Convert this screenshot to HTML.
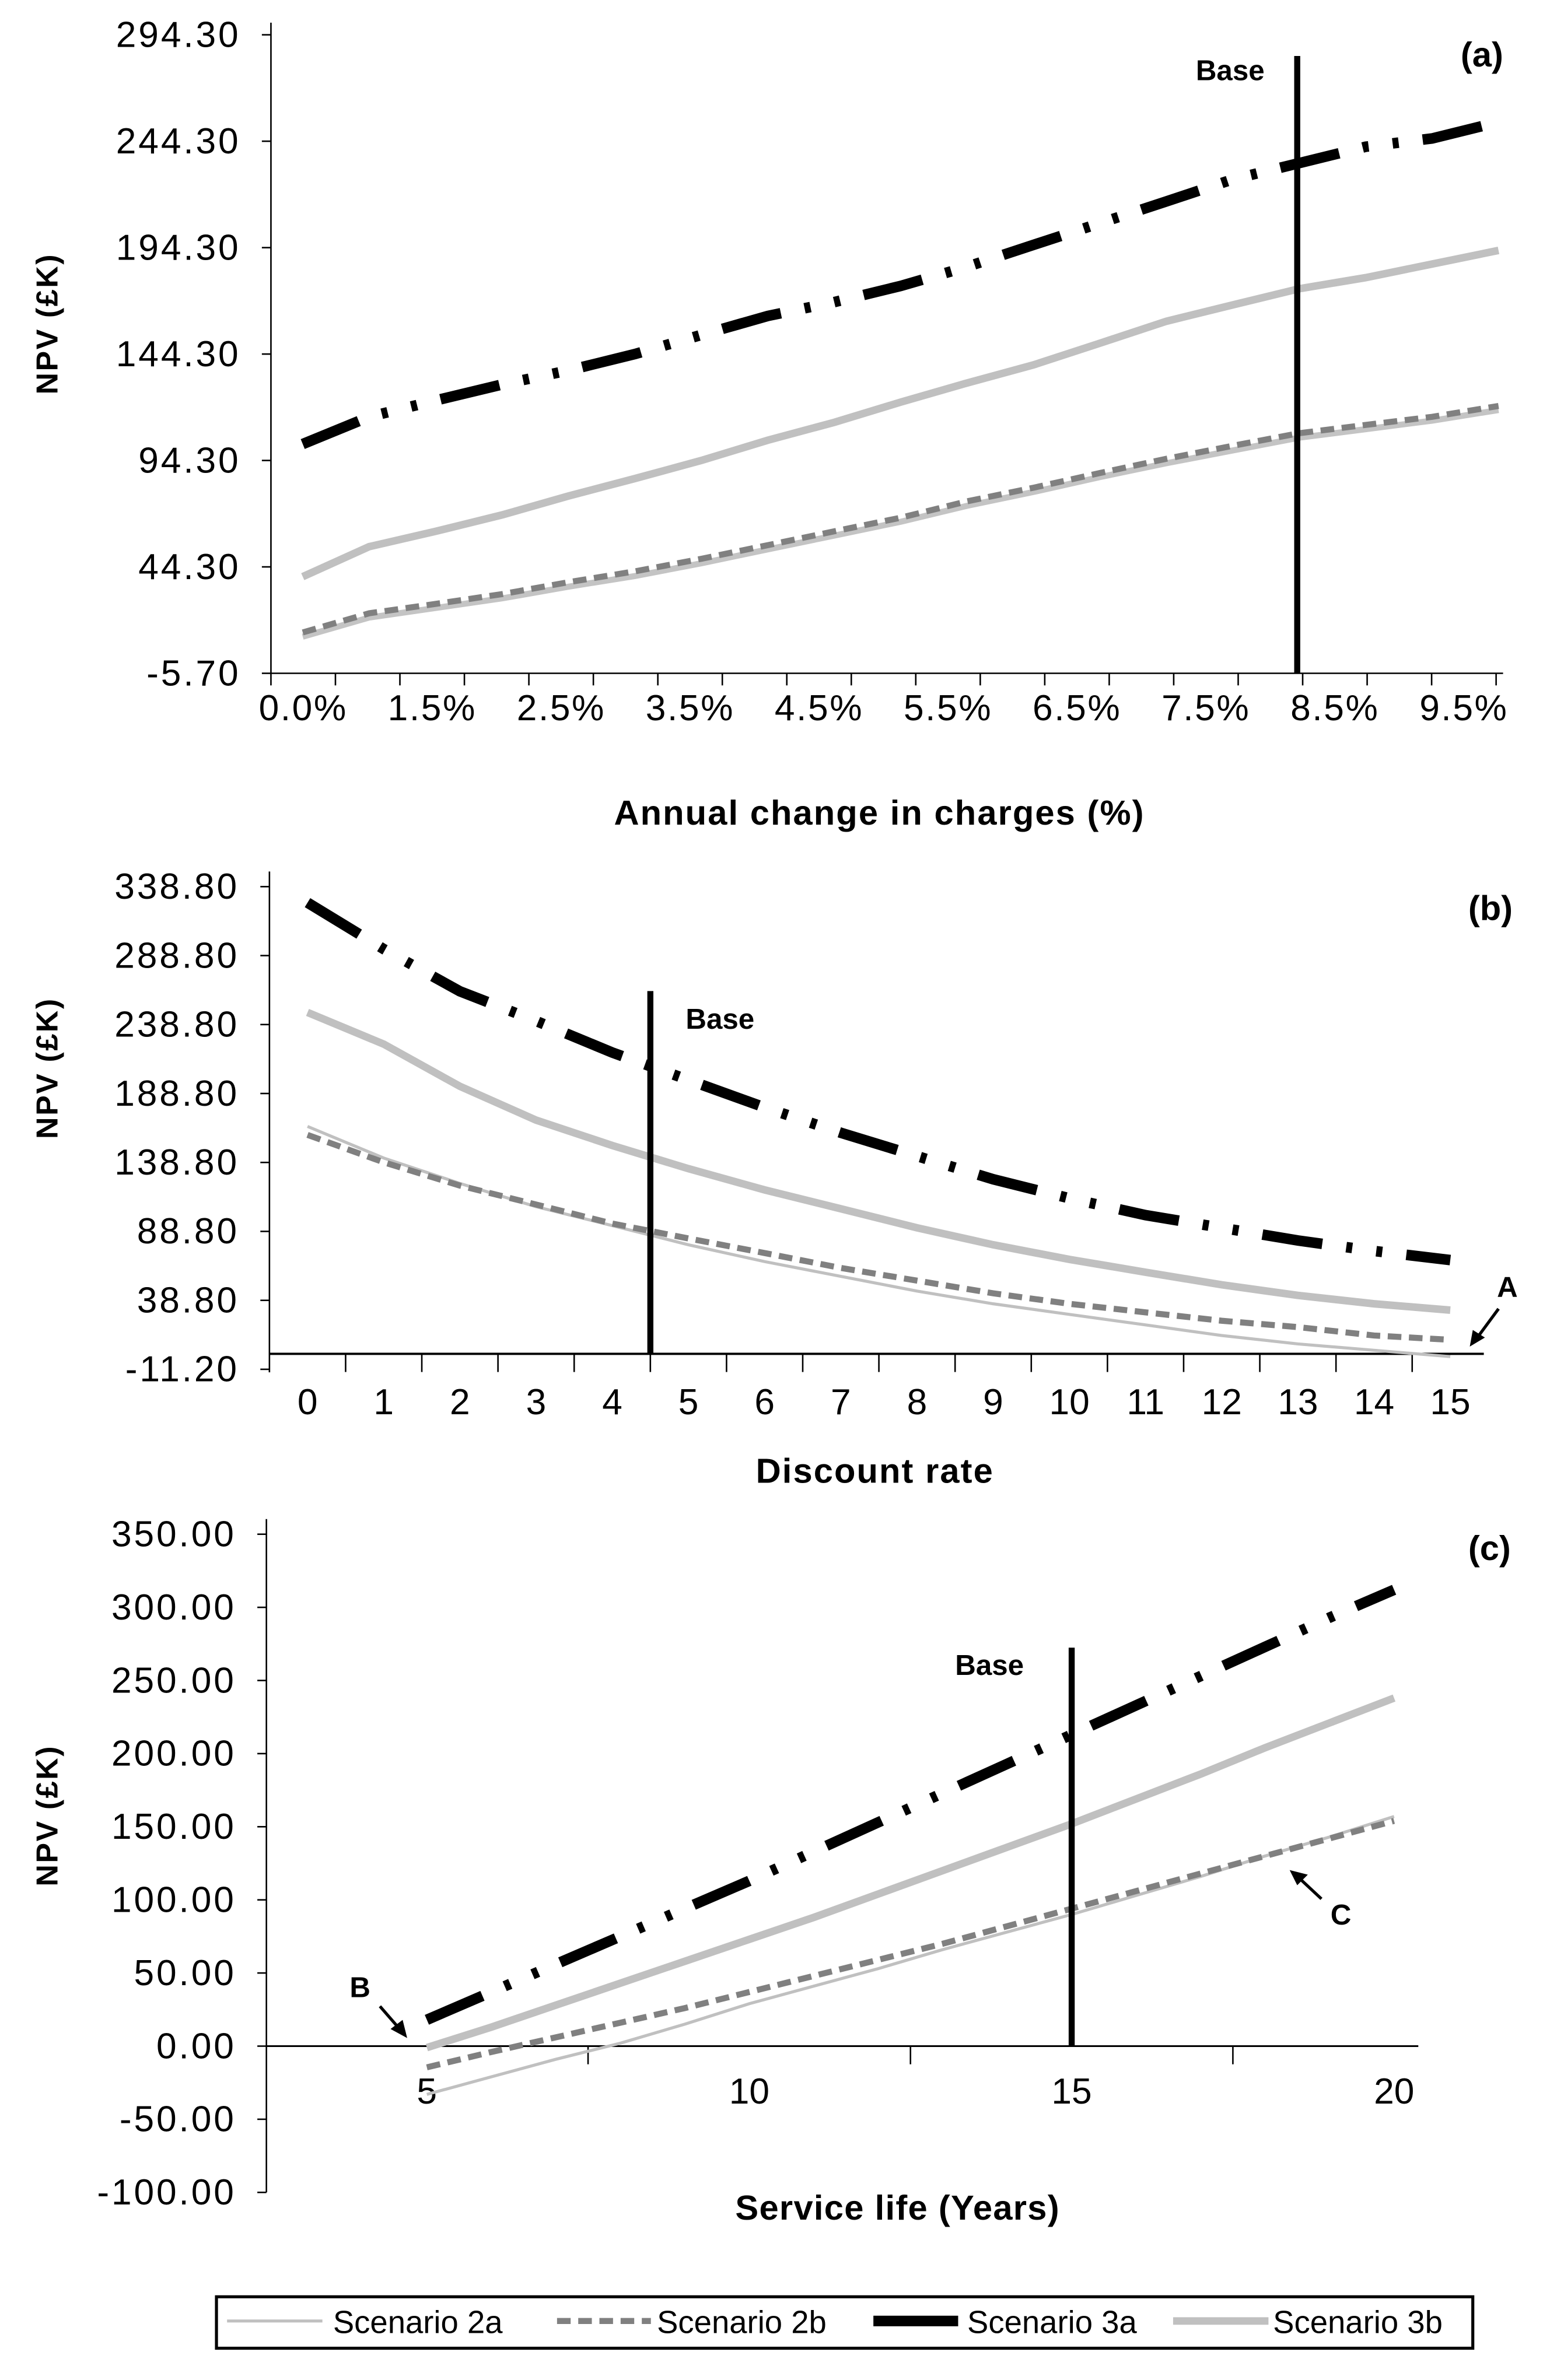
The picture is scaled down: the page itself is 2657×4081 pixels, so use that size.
<!DOCTYPE html>
<html><head><meta charset="utf-8"><style>
html,body{margin:0;padding:0;background:#fff;}
svg{display:block;}
text{font-family:"Liberation Sans",Arial,sans-serif;}
</style></head><body>
<svg id="fig" xmlns="http://www.w3.org/2000/svg" width="2657" height="4081" viewBox="0 0 1024 1573" preserveAspectRatio="none">
<rect x="0" y="0" width="1024" height="1573" fill="#fff"/>
</svg>
<script>
// ---- Panel (a) data ----
const aCats = ["0.0%","1.0%","1.5%","2.0%","2.5%","3.0%","3.5%","4.0%","4.5%","5.0%","5.5%","6.0%","6.5%","7.0%","7.5%","8.0%","8.5%","9.0%","9.5%"];
const a2a = [11.5,20.5,25,29.5,35,40,46,52.5,59,65.5,73,79.5,86.5,93,99,105,109,113,118];
const a2b = [13.5,22.5,26.9,31.5,37.1,42.2,48.1,54.5,61,67.4,75.1,81.5,88.4,95.1,101.2,107.1,111,114.8,119.9];
const a3a = [102,114.8,122.5,130,136.6,144.3,153.3,162.2,168.7,176.3,185.3,195.6,205.8,216,226.4,234,241.7,245.6,253.3];
const a3b = [39.7,53.8,61,68.7,77.6,85.8,94.3,103.8,112.2,121.7,130.7,139.2,149.4,159.7,167.4,175,180.2,186.6,193];
const aTicks = ["-5.70","44.30","94.30","144.30","194.30","244.30","294.30"];
const aTickVals = [-5.7,44.3,94.3,144.3,194.3,244.3,294.3];
const aBase = 15.8;
// ---- Panel (b) data ----
const bCats = ["0","1","2","3","4","5","6","7","8","9","10","11","12","13","14","15"];
const b2a = [164.9,142,123.6,106.7,93,79.1,66.9,56.2,45.5,36.3,28.6,21,13.3,7.2,2.6,-2];
const b2b = [158.8,138.9,122,108.3,94.5,83.7,73.1,62.3,53.1,43.9,36.3,30.1,24,19.4,13.3,10.2];
const b3a = [327.2,293.5,262.9,241.4,218.5,198.6,178.7,160.3,143.4,126.6,112.8,100.6,91.4,82.2,74.6,68];
const b3b = [247.6,224.6,194,169.5,151.1,134.3,118.9,105.2,91.4,79.1,68.5,59.2,50.1,42.4,36.3,31.7];
const bTicks = ["-11.20","38.80","88.80","138.80","188.80","238.80","288.80","338.80"];
const bTickVals = [-11.2,38.8,88.8,138.8,188.8,238.8,288.8,338.8];
const bBase = 4.5;
// ---- Panel (c) data ----
const cYears = [5,6,7,8,9,10,11,12,13,14,15,16,17,18,19,20];
const c2a = [-33,-21,-9,2,15,29,41,53,66,78,90,103,116,130,143,157];
const c2b = [-14.5,-4,6,16,26,37,48,59,70,82,94,106,118,130,142,154];
const c3a = [18,37,56,75,94,113,133,153,173,193,213,233,253,273,293,312];
const c3b = [-1,13,28,43,58,73,88,104,120,136,152,169,186,204,221,238];
const cTicks = ["-100.00","-50.00","0.00","50.00","100.00","150.00","200.00","250.00","300.00","350.00"];
const cTickVals = [-100,-50,0,50,100,150,200,250,300,350];
const cXLabels = ["5","10","15","20"];
const cXVals = [5,10,15,20];
const cBase = 15;

const NS="http://www.w3.org/2000/svg";
const svg=document.getElementById('fig');
function mk(tag,attrs,parent){const e=document.createElementNS(NS,tag);for(const k in attrs)e.setAttribute(k,attrs[k]);(parent||svg).appendChild(e);return e;}
function txt(x,y,s,size,opts,parent){const t=mk('text',Object.assign({x:x,y:y,'font-size':size,fill:'#000'},opts||{}),parent);t.textContent=s;return t;}
const TICK=24, YSP=1.5, TITLE=23;

const styles={
 s2a:{stroke:'#c0c0c0','stroke-width':2,fill:'none'},
 s2aThick:{stroke:'#c4c4c4','stroke-width':4,fill:'none'},
 s2b:{stroke:'#808080','stroke-width':4,fill:'none','stroke-dasharray':'9 5'},
 s3a:{stroke:'#000','stroke-width':7,fill:'none','stroke-dasharray':'40 16 4 16 4 16'},
 s3b:{stroke:'#c0c0c0','stroke-width':5,fill:'none'}
};
function series(g,xs,vals,yf,st,name){
  let d='';vals.forEach((v,i)=>{d+=(i?'L':'M')+xs[i].toFixed(2)+' '+yf(v).toFixed(2);});
  const p=mk('path',Object.assign({d:d},st),g);
  
  
  return p;
}

// ===== Panel (a) =====
(function(){
  const g=mk('g',{});
  
  
  const x0=179,cw=42.6,yTop=23,yBot=445,vMin=-5.7,vMax=294.3;
  const yf=v=>yBot-(v-vMin)/(vMax-vMin)*(yBot-yTop);
  const xc=i=>x0+cw*(i+0.5);
  const xEnd=993;
  mk('line',{x1:x0,y1:yTop-8,x2:x0,y2:yBot,stroke:'#000','stroke-width':1},g);
  mk('line',{x1:x0,y1:yBot,x2:xEnd,y2:yBot,stroke:'#000','stroke-width':1},g);
  aTickVals.forEach((v,i)=>{mk('line',{x1:x0-6,y1:yf(v),x2:x0,y2:yf(v),stroke:'#000'},g);
    const t=txt(x0-20,yf(v)+8,aTicks[i],TICK,{'text-anchor':'end','letter-spacing':YSP},g);
    });
  for(let i=0;i<=aCats.length;i++){mk('line',{x1:x0+cw*i,y1:yBot,x2:x0+cw*i,y2:yBot+8,stroke:'#000'},g);}
  aCats.forEach((c,i)=>{if(i%2===0){const t=txt(xc(i),yBot+31,c,TICK,{'text-anchor':'middle','letter-spacing':1},g);
    }});
  const xs=aCats.map((c,i)=>200+i*(790/(aCats.length-1)));
  series(g,xs,a2a,yf,styles.s2aThick,'series-scenario-2a');
  series(g,xs,a2b,yf,styles.s2b,'series-scenario-2b');
  series(g,xs,a3b,yf,styles.s3b,'series-scenario-3b');
  series(g,xs,a3a,yf,styles.s3a,'series-scenario-3a');
  const bx=857;
  const bl=mk('line',{x1:bx,y1:37,x2:bx,y2:yBot,stroke:'#000','stroke-width':4},g);
  
  const bt=txt(790,53,'Base',19,{'font-weight':'bold'},g);
  
  const pl=txt(965,44,'(a)',23,{'font-weight':'bold'},g);
  
  const yt=txt(0,0,'NPV (£K)',20,{'font-weight':'bold','text-anchor':'middle',transform:'translate(38,214) rotate(-90)','letter-spacing':'1'},g);
  
  const xt=txt(581,545,'Annual change in charges (%)',TITLE,{'font-weight':'bold','text-anchor':'middle','letter-spacing':'0.8'},g);
  
})();

// ===== Panel (b) =====
(function(){
  const g=mk('g',{});
  
  
  const x0=178,cw=50.33,yTop=586,yBot=905,vMin=-11.2,vMax=338.8;
  const yf=v=>yBot-(v-vMin)/(vMax-vMin)*(yBot-yTop);
  const xc=i=>x0+cw*(i+0.5);
  const xEnd=x0+cw*bCats.length;
  const y0=yf(0);
  mk('line',{x1:x0,y1:yTop-10,x2:x0,y2:yBot+2,stroke:'#000','stroke-width':1},g);
  mk('line',{x1:x0,y1:y0,x2:xEnd-3,y2:y0,stroke:'#000','stroke-width':1.5},g);
  bTickVals.forEach((v,i)=>{mk('line',{x1:x0-6,y1:yf(v),x2:x0,y2:yf(v),stroke:'#000'},g);
    const t=txt(x0-20,yf(v)+8,bTicks[i],TICK,{'text-anchor':'end','letter-spacing':YSP},g);
    });
  for(let i=1;i<bCats.length;i++){mk('line',{x1:x0+cw*i,y1:y0,x2:x0+cw*i,y2:y0+12,stroke:'#000'},g);}
  bCats.forEach((c,i)=>{const t=txt(xc(i),y0+40,c,TICK,{'text-anchor':'middle'},g);
    });
  const xs=bCats.map((c,i)=>xc(i));
  series(g,xs,b2a,yf,styles.s2a,'series-scenario-2a');
  series(g,xs,b2b,yf,styles.s2b,'series-scenario-2b');
  series(g,xs,b3b,yf,styles.s3b,'series-scenario-3b');
  series(g,xs,b3a,yf,styles.s3a,'series-scenario-3a');
  const bx=x0+cw*(bBase+0.5);
  const bl=mk('line',{x1:bx,y1:655,x2:bx,y2:y0,stroke:'#000','stroke-width':4},g);
  
  const bt=txt(453,680,'Base',19,{'font-weight':'bold'},g);
  
  const al=txt(989,857,'A',19,{'font-weight':'bold'},g);
  
  mk('line',{x1:990,y1:865,x2:976,y2:884,stroke:'#000','stroke-width':2},g);
  mk('path',{d:'M971 890 L973 879 L981 884 Z',fill:'#000'},g);
  const pl=txt(970,608,'(b)',23,{'font-weight':'bold'},g);
  
  const yt=txt(0,0,'NPV (£K)',20,{'font-weight':'bold','text-anchor':'middle',transform:'translate(38,706) rotate(-90)','letter-spacing':'1'},g);
  
  const xt=txt(578,980,'Discount rate',TITLE,{'font-weight':'bold','text-anchor':'middle','letter-spacing':'0.8'},g);
  
})();

// ===== Panel (c) =====
(function(){
  const g=mk('g',{});
  
  
  const x0=176,xEnd=937,yTop=1014,yBot=1449,vMin=-100,vMax=350;
  const yf=v=>yBot-(v-vMin)/(vMax-vMin)*(yBot-yTop);
  const xf=v=>282+(v-5)*42.6;
  const y0=yf(0);
  mk('line',{x1:x0,y1:yTop-10,x2:x0,y2:yBot,stroke:'#000','stroke-width':1},g);
  mk('line',{x1:x0,y1:y0,x2:xEnd,y2:y0,stroke:'#000','stroke-width':1.2},g);
  cTickVals.forEach((v,i)=>{mk('line',{x1:x0-6,y1:yf(v),x2:x0,y2:yf(v),stroke:'#000'},g);
    const t=txt(x0-20,yf(v)+8,cTicks[i],TICK,{'text-anchor':'end','letter-spacing':YSP},g);
    });
  [7.5,12.5,17.5].forEach(v=>mk('line',{x1:xf(v),y1:y0,x2:xf(v),y2:y0+12,stroke:'#000'},g));
  cXVals.forEach((v,i)=>{const t=txt(xf(v),y0+38,cXLabels[i],TICK,{'text-anchor':'middle'},g);
    });
  const xs=cYears.map(xf);
  series(g,xs,c2a,yf,styles.s2a,'series-scenario-2a');
  series(g,xs,c2b,yf,styles.s2b,'series-scenario-2b');
  series(g,xs,c3b,yf,styles.s3b,'series-scenario-3b');
  series(g,xs,c3a,yf,styles.s3a,'series-scenario-3a');
  const bx=xf(cBase);
  const bl=mk('line',{x1:bx,y1:1089,x2:bx,y2:y0,stroke:'#000','stroke-width':4},g);
  
  const bt=txt(631,1107,'Base',19,{'font-weight':'bold'},g);
  
  const b=txt(231,1320,'B',19,{'font-weight':'bold'},g);
  
  mk('line',{x1:251,y1:1326,x2:264,y2:1341,stroke:'#000','stroke-width':2},g);
  mk('path',{d:'M269 1347 L258 1341 L266 1335 Z',fill:'#000'},g);
  const c=txt(879,1272,'C',19,{'font-weight':'bold'},g);
  
  mk('line',{x1:873,y1:1255,x2:858,y2:1241,stroke:'#000','stroke-width':2},g);
  mk('path',{d:'M852 1236 L864 1239 L857 1246 Z',fill:'#000'},g);
  const pl=txt(970,1031,'(c)',23,{'font-weight':'bold'},g);
  
  const yt=txt(0,0,'NPV (£K)',20,{'font-weight':'bold','text-anchor':'middle',transform:'translate(38,1200) rotate(-90)','letter-spacing':'1'},g);
  
  const xt=txt(593,1467,'Service life (Years)',TITLE,{'font-weight':'bold','text-anchor':'middle','letter-spacing':'0.5'},g);
  
})();

// ===== Legend =====
(function(){
  const g=mk('g',{});
  
  
  mk('rect',{x:143,y:1518,width:830,height:34,fill:'#fff',stroke:'#000','stroke-width':2},g);
  const entries=[
    {x1:150,x2:213,tx:220,label:'Scenario 2a',st:styles.s2a,name:'legend-entry-2a'},
    {x1:368,x2:430,tx:434,label:'Scenario 2b',st:styles.s2b,name:'legend-entry-2b'},
    {x1:577,x2:633,tx:639,label:'Scenario 3a',st:{stroke:'#000','stroke-width':7,fill:'none'},name:'legend-entry-3a'},
    {x1:775,x2:838,tx:841,label:'Scenario 3b',st:styles.s3b,name:'legend-entry-3b'}
  ];
  entries.forEach(e=>{
    const eg=mk('g',{},g);
    
    
    mk('line',Object.assign({x1:e.x1,y1:1534,x2:e.x2,y2:1534},e.st),eg);
    txt(e.tx,1542,e.label,21,{},eg);
  });
})();
</script>
</body></html>
